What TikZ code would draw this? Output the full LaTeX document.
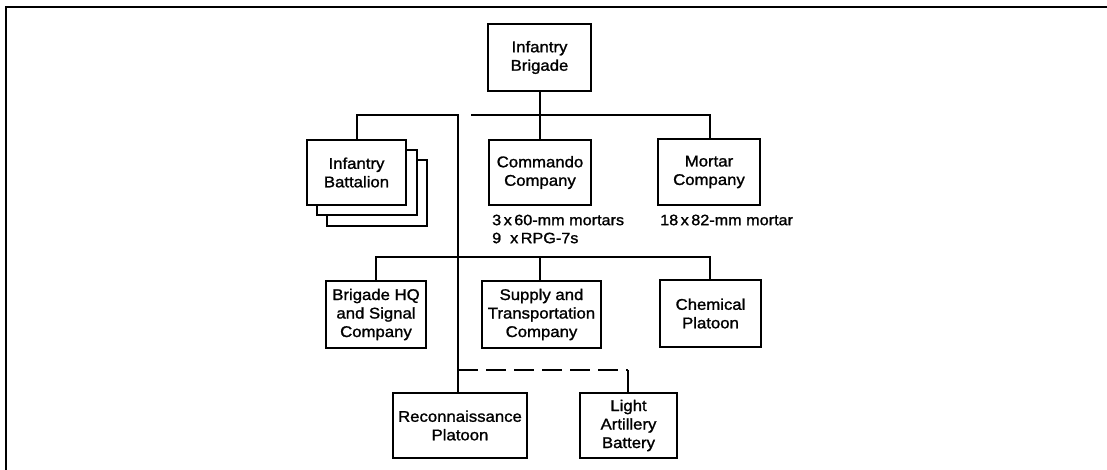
\documentclass[tikz,border=0pt]{standalone}
\usepackage{fontspec}
\setmainfont{Liberation Sans}[FakeStretch=1.08,FakeBold=1.3]
\begin{document}
\begin{tikzpicture}[x=1pt,y=-1pt,
  unit/.style={draw,line width=1.1pt,inner sep=0pt,align=center,fill=white,
    font=\fontsize{15.5}{18.5}\selectfont},
  link/.style={line width=1.6pt},
  note/.style={inner sep=0pt,anchor=west,font=\fontsize{15}{18}\selectfont}]
\useasboundingbox (0,0) rectangle (1107,470);

% frame
\draw[line width=1.5pt] (5,7) -- (1107,7);
\draw[line width=2.5pt] (6,7) -- (6,470);

% stacked battalions
\draw[line width=1.1pt,fill=white] (327,160) rectangle (427,226);
\draw[line width=1.1pt,fill=white] (317,150) rectangle (417,215);

% units
\node[unit,minimum width=103pt,minimum height=67pt] (brig) at (539.5,57.5) {Infantry\\Brigade};
\node[unit,minimum width=99pt,minimum height=65pt] (bat) at (356.5,172.5) {Infantry\\Battalion};
\node[unit,minimum width=102pt,minimum height=65pt] (cmd) at (540,172.5) {Commando\\Company};
\node[unit,minimum width=102pt,minimum height=66pt] (mort) at (709,172) {Mortar\\Company};
\node[unit,minimum width=100pt,minimum height=67pt] (hq) at (376,314.5) {Brigade HQ\\and Signal\\Company};
\node[unit,minimum width=119pt,minimum height=67pt] (sup) at (541.5,314.5) {Supply and\\Transportation\\Company};
\node[unit,minimum width=101pt,minimum height=67pt] (chem) at (710.5,313.5) {Chemical\\Platoon};
\node[unit,minimum width=134pt,minimum height=65pt] (rec) at (460,425.5) {Reconnaissance\\Platoon};
\node[unit,minimum width=97pt,minimum height=65pt] (art) at (628.5,425.5) {Light\\Artillery\\Battery};

% equipment notes
\node[note] (cmdA) at (492,220) {3\,x\,60-mm mortars};
\node[note] (cmdB) at (492,238) {9 \ x\,RPG-7s};
\node[note] (mortA) at (660,220) {18\,x\,82-mm mortar};

% brigade to commando and mortar companies
\coordinate (busL) at (471,115);
\coordinate (busR) at (710,115);
\draw[link] (brig.south -| cmd.north) -- (cmd.north);
\draw[link] (busL) -- (busR) -- (mort.north -| busR);

% battalion branch and long trunk to reconnaissance
\coordinate (trkTop) at (458,115);
\draw[link] (bat.north -| 357,0) |- (trkTop) -- (rec.north -| trkTop);

% support units bus
\coordinate (supL) at (376,257);
\coordinate (supR) at (710,257);
\coordinate (supM) at (540,257);
\draw[link] (hq.north) -- (supL) -- (supR) -- (chem.north -| supR);
\draw[link] (supM) -- (sup.north -| supM);

% attached artillery (dashed)
\coordinate (dashL) at (458,370);
\coordinate (dashR) at (628,370);
\draw[link,dash pattern=on 20pt off 8pt] (dashL) -- (dashR);
\draw[link] (dashR) -- (art.north -| dashR);
\end{tikzpicture}
\end{document}
